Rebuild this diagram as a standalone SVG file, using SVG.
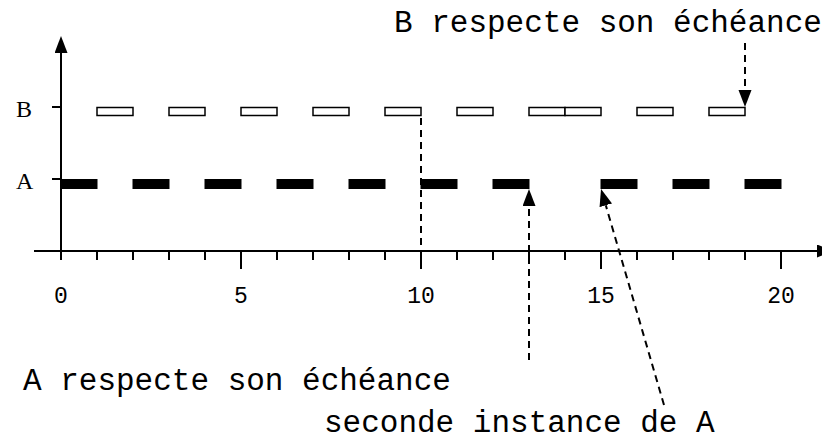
<svg xmlns="http://www.w3.org/2000/svg" width="822" height="440" viewBox="0 0 822 440">
  <style>
    .axis { stroke: #000; stroke-width: 2; fill: none; }
    .tick { stroke: #000; stroke-width: 2; }
    .job-a { fill: #000; }
    .job-b { fill: #fff; stroke: #000; stroke-width: 1.5; }
    .dash { stroke: #000; stroke-width: 2; stroke-dasharray: 7 5; fill: none; }
    .mono { font-family: "Liberation Mono", "Courier New", monospace; fill: #000; }
    .lbl { font-size: 31px; }
    .num { font-size: 23px; text-anchor: middle; }
    .row { font-family: "Liberation Serif", "Times New Roman", serif; font-size: 24px; fill: #000; }
  </style>
  <defs>
    <marker id="head" markerUnits="userSpaceOnUse" markerWidth="18" markerHeight="14" refX="0" refY="6.5" orient="auto">
      <path d="M0,0 L17,6.5 L0,13 z" fill="#000" stroke="none"/>
    </marker>
  </defs>
  <rect width="822" height="440" fill="#fff"/>

  <!-- time axis and row axis -->
  <g id="axes">
    <line class="axis" x1="61" y1="260" x2="61" y2="53" marker-end="url(#head)"/>
    <line class="axis" x1="34" y1="251" x2="817" y2="251" marker-end="url(#head)"/>
    <!-- row ticks -->
    <line class="tick" x1="52" y1="107" x2="61" y2="107"/>
    <line class="tick" x1="52" y1="179" x2="61" y2="179"/>
    <!-- unit ticks, long every 5 units -->
    <path class="tick" d="M97,251V260 M133,251V260 M169,251V260 M205,251V260 M241,251V269 M277,251V260 M313,251V260 M349,251V260 M385,251V260 M421,251V269 M457,251V260 M493,251V260 M529,251V260 M565,251V260 M601,251V269 M637,251V260 M673,251V260 M709,251V260 M745,251V260 M781,251V269"/>
    <text class="mono num" x="61" y="303">0</text>
    <text class="mono num" x="241" y="303">5</text>
    <text class="mono num" x="421" y="303">10</text>
    <text class="mono num" x="601" y="303">15</text>
    <text class="mono num" x="781" y="303">20</text>
    <text class="row" x="16" y="117">B</text>
    <text class="row" x="16" y="189">A</text>
  </g>

  <!-- task B: hollow execution slots -->
  <g id="task-b">
    <rect class="job-b" x="97" y="107.5" width="36" height="8"/>
    <rect class="job-b" x="169" y="107.5" width="36" height="8"/>
    <rect class="job-b" x="241" y="107.5" width="36" height="8"/>
    <rect class="job-b" x="313" y="107.5" width="36" height="8"/>
    <rect class="job-b" x="385" y="107.5" width="36" height="8"/>
    <rect class="job-b" x="457" y="107.5" width="36" height="8"/>
    <rect class="job-b" x="529" y="107.5" width="36" height="8"/>
    <rect class="job-b" x="565" y="107.5" width="36" height="8"/>
    <rect class="job-b" x="637" y="107.5" width="36" height="8"/>
    <rect class="job-b" x="709" y="107.5" width="36" height="8"/>
  </g>

  <!-- task A: filled execution slots -->
  <g id="task-a">
    <rect class="job-a" x="61" y="179" width="36.5" height="10"/>
    <rect class="job-a" x="132.5" y="179" width="37" height="10"/>
    <rect class="job-a" x="204.5" y="179" width="37" height="10"/>
    <rect class="job-a" x="276.5" y="179" width="37" height="10"/>
    <rect class="job-a" x="348.5" y="179" width="37" height="10"/>
    <rect class="job-a" x="420.5" y="179" width="37" height="10"/>
    <rect class="job-a" x="492.5" y="179" width="37" height="10"/>
    <rect class="job-a" x="600.5" y="179" width="37" height="10"/>
    <rect class="job-a" x="672.5" y="179" width="37" height="10"/>
    <rect class="job-a" x="744.5" y="179" width="37" height="10"/>
  </g>

  <!-- annotations -->
  <g id="note-b">
    <text class="mono lbl" x="394" y="32">B respecte son échéance</text>
  </g>
  <g id="note-a">
    <text class="mono lbl" x="23" y="390">A respecte son échéance</text>
  </g>
  <g id="note-second">
    <text class="mono lbl" x="324" y="432">seconde instance de A</text>
  </g>

  <g id="connectors">
    <line class="dash" x1="421" y1="118" x2="421" y2="268"/>
    <line class="dash" x1="745" y1="43" x2="745" y2="90" marker-end="url(#head)"/>
    <line class="dash" x1="529" y1="360" x2="529" y2="206" marker-end="url(#head)"/>
    <line class="dash" x1="664" y1="405" x2="605.8" y2="205.3" marker-end="url(#head)"/>
  </g>
</svg>
